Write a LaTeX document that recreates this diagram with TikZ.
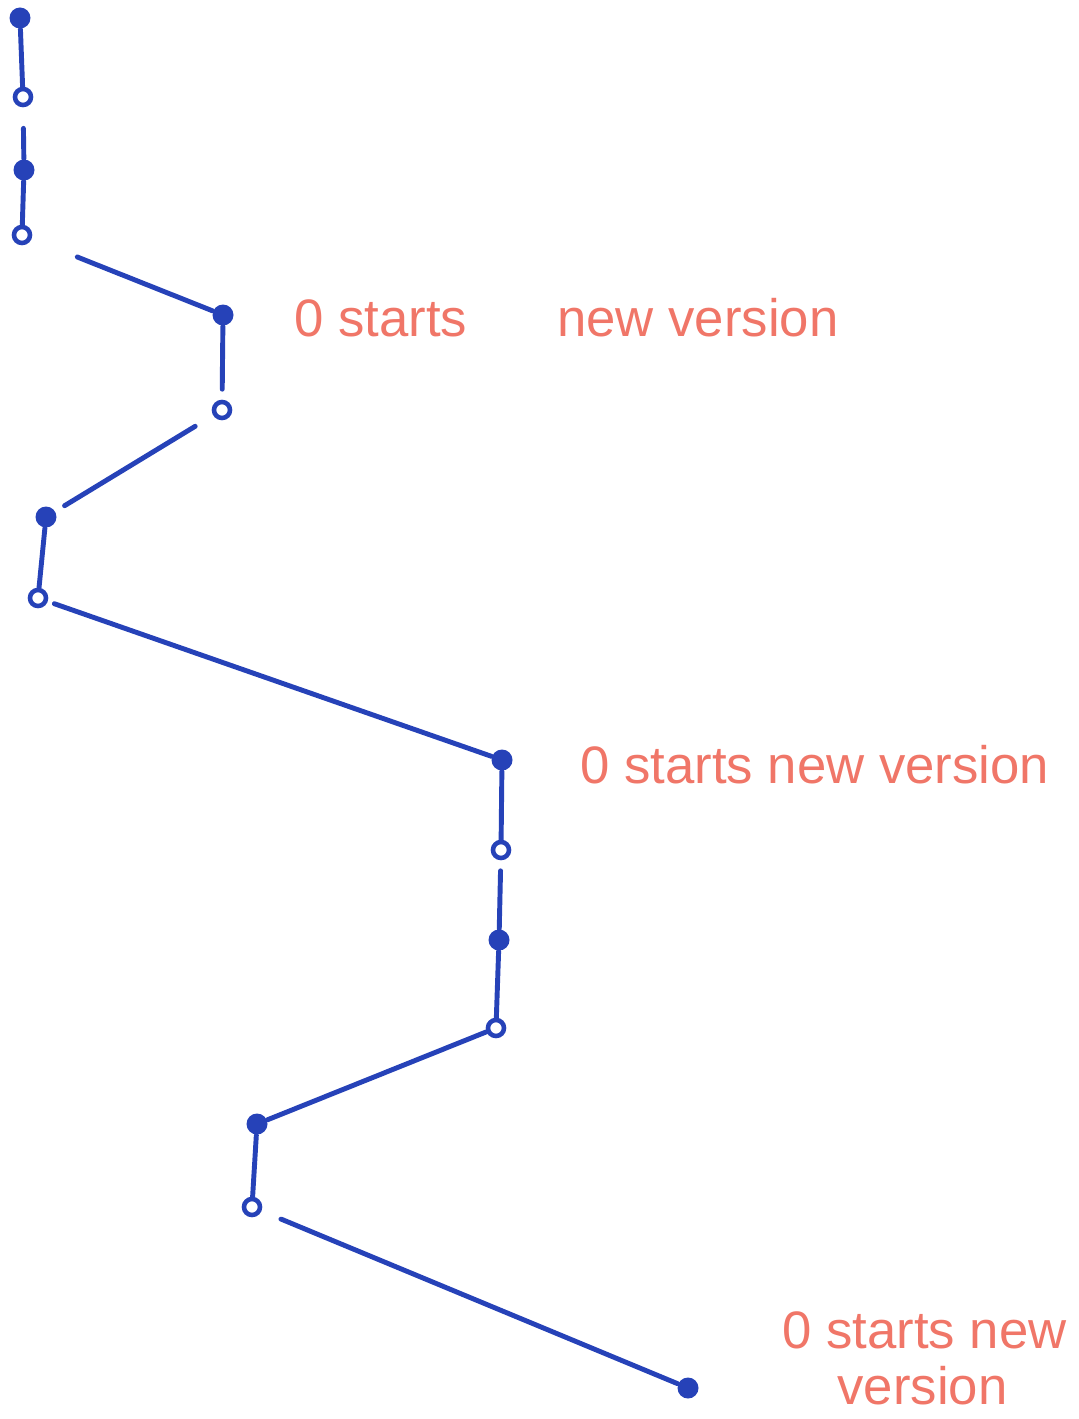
\documentclass[tikz,border=0pt]{standalone}
\usepackage{fontspec}
\setmainfont{Liberation Sans}

\definecolor{pen}{RGB}{38,66,184}
\definecolor{marker}{RGB}{240,118,104}

\tikzset{
  full/.style={circle, fill=pen, inner sep=0pt, minimum size=2.1mm},
  hollow/.style={circle, draw=pen, line width=1.3pt, fill=white, inner sep=0pt, minimum size=1.6mm},
  link/.style={draw=pen, line width=1.4pt, line cap=round},
  note/.style={text=marker, font=\fontsize{15}{18}\selectfont, anchor=west, align=left}
}

\begin{document}
\begin{tikzpicture}[x=0.1mm, y=-0.1mm]
\useasboundingbox (0,0) rectangle (1078,1419);

% first run
\node[full]   (F1) at (20,18) {};
\node[hollow] (O1) at (23,97) {};
\node[full]   (F2) at (24,170) {};
\node[hollow] (O2) at (22,235) {};

% second run
\node[full]   (F3) at (223,315) {};
\node[hollow] (O3) at (222,410) {};

% third run
\node[full]   (F4) at (46,517) {};
\node[hollow] (O4) at (38,598) {};

% fourth run
\node[full]   (F5) at (502,760) {};
\node[hollow] (O5) at (501,850) {};
\node[full]   (F6) at (499,940) {};
\node[hollow] (O6) at (496,1028) {};

% fifth run
\node[full]   (F7) at (257,1124) {};
\node[hollow] (O7) at (252,1207) {};

% last one
\node[full]   (F8) at (688,1388) {};

% verticals
\draw[link] (F1) -- (O1);
\draw[link, shorten <=6pt] (O1) -- (F2);
\draw[link] (F2) -- (O2);
\draw[link, shorten >=3pt] (F3) -- (O3);
\draw[link] (F4) -- (O4);
\draw[link] (F5) -- (O5);
\draw[link, shorten <=3pt] (O5) -- (F6);
\draw[link] (F6) -- (O6);
\draw[link] (F7) -- (O7);

% diagonals
\draw[link, shorten <=14pt] (O2) -- (F3);
\draw[link, shorten <=6pt, shorten >=3pt] (O3) -- (F4);
\draw[link, shorten <=2pt] (O4) -- (F5);
\draw[link] (O6) -- (F7);
\draw[link, shorten <=6pt] (O7) -- (F8);

% notes
\node[note] (N1) at (282,318) {0 starts\hspace*{9mm}new version};
\node[note] (N2) at (568,765) {0 starts new version};
\node[note] (N3) at (770,1358) {0 starts new\\[-2pt]\hspace*{5.5mm}version};
\end{tikzpicture}
\end{document}
